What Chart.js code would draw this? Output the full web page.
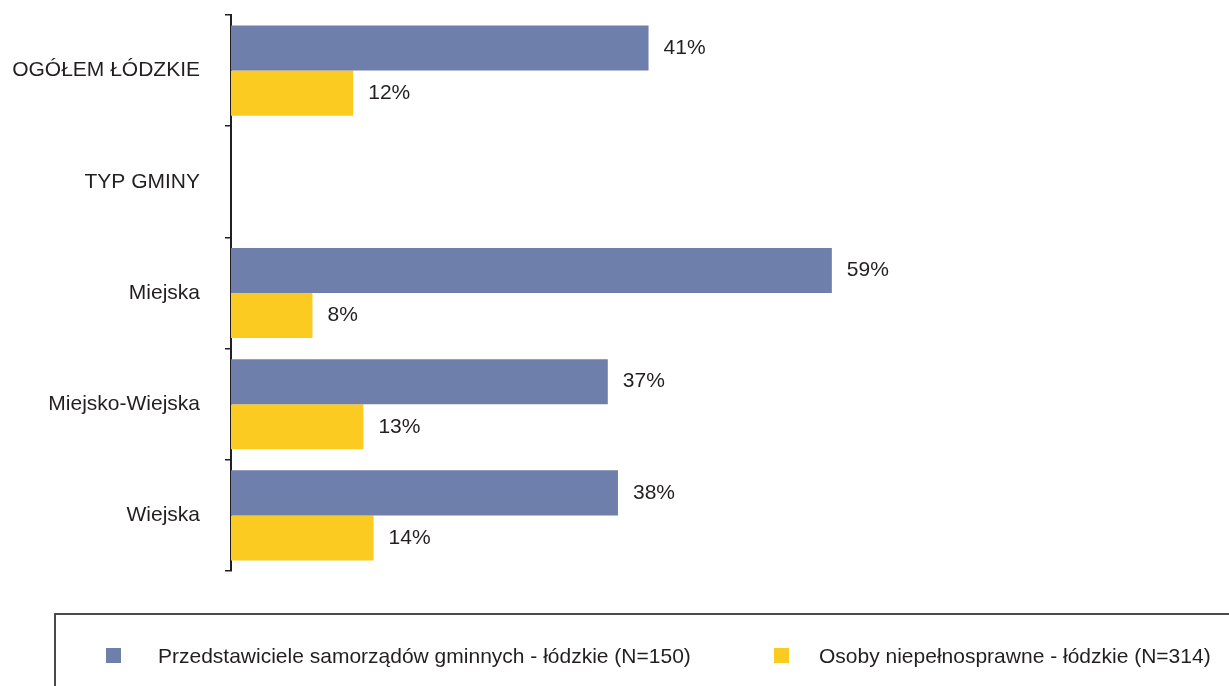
<!DOCTYPE html>
<html>
<head>
<meta charset="utf-8">
<script src="https://cdn.jsdelivr.net/npm/chart.js@4"></script>
<style>
  html, body { margin: 0; padding: 0; background: #fff; }
  #wrap { width: 1229px; height: 686px; }
</style>
</head>
<body>
<div id="wrap"><canvas id="barChart" width="1229" height="686"></canvas></div>
<script>
const categories = ['OGÓŁEM ŁÓDZKIE', 'TYP GMINY', 'Miejska', 'Miejsko-Wiejska', 'Wiejska'];
const samorzady = [41, null, 59, 37, 38];
const niepelnosprawni = [12, null, 8, 13, 14];
const seriesNames = ['Przedstawiciele samorządów gminnych - łódzkie (N=150)', 'Osoby niepełnosprawne - łódzkie (N=314)'];

const FONT = '"Liberation Sans", Arial, Helvetica, sans-serif';
const TEXT = '#231f20';

// etykiety z wartosciami przy slupkach
const valueLabels = {
  id: 'valueLabels',
  afterDatasetsDraw(chart) {
    const ctx = chart.ctx;
    ctx.save();
    ctx.font = '21px ' + FONT;
    ctx.fillStyle = TEXT;
    ctx.textBaseline = 'middle';
    ctx.textAlign = 'left';
    chart.data.datasets.forEach((ds, i) => {
      chart.getDatasetMeta(i).data.forEach((bar, j) => {
        if (ds.data[j] == null) return;
        ctx.fillText(ds.data[j] + '%', bar.x + 15, bar.y);
      });
    });
    ctx.restore();
  }
};

// legenda w ramce na dole
const boxLegend = {
  id: 'boxLegend',
  afterDraw(chart) {
    const ctx = chart.ctx;
    ctx.save();
    ctx.strokeStyle = '#4a4a4a';
    ctx.lineWidth = 2;
    ctx.strokeRect(55, 614, 1200, 120);
    const items = [{ bx: 106, tx: 158 }, { bx: 774, tx: 819 }];
    ctx.font = '21px ' + FONT;
    ctx.textBaseline = 'middle';
    chart.data.datasets.forEach((ds, i) => {
      ctx.fillStyle = ds.backgroundColor;
      ctx.fillRect(items[i].bx, 648, 15, 15);
      ctx.fillStyle = TEXT;
      ctx.fillText(ds.label, items[i].tx, 657);
    });
    ctx.restore();
  }
};

new Chart(document.getElementById('barChart'), {
  type: 'bar',
  data: {
    labels: categories,
    datasets: [
      { label: seriesNames[0], data: samorzady, backgroundColor: '#6f7fab' },
      { label: seriesNames[1], data: niepelnosprawni, backgroundColor: '#fbcb22' }
    ]
  },
  options: {
    indexAxis: 'y',
    responsive: false,
    animation: false,
    events: [],
    layout: { padding: { top: 15, bottom: 115, left: 0, right: 0 } },
    datasets: { bar: { categoryPercentage: 0.81, barPercentage: 1.0 } },
    scales: {
      x: { display: false, min: 0, max: 98 },
      y: {
        afterFit(scale) {
          scale.width = 231;
          scale.paddingTop = 0;
          scale.paddingBottom = 0;
        },
        border: { display: true, color: TEXT, width: 2 },
        grid: { offset: true, drawOnChartArea: false, drawTicks: true, tickLength: 6, color: TEXT, lineWidth: 1.5 },
        ticks: { padding: 25, color: TEXT, font: { family: FONT, size: 21 } }
      }
    },
    plugins: {
      legend: { display: false },
      tooltip: { enabled: false }
    }
  },
  plugins: [valueLabels, boxLegend]
});
</script>
</body>
</html>
